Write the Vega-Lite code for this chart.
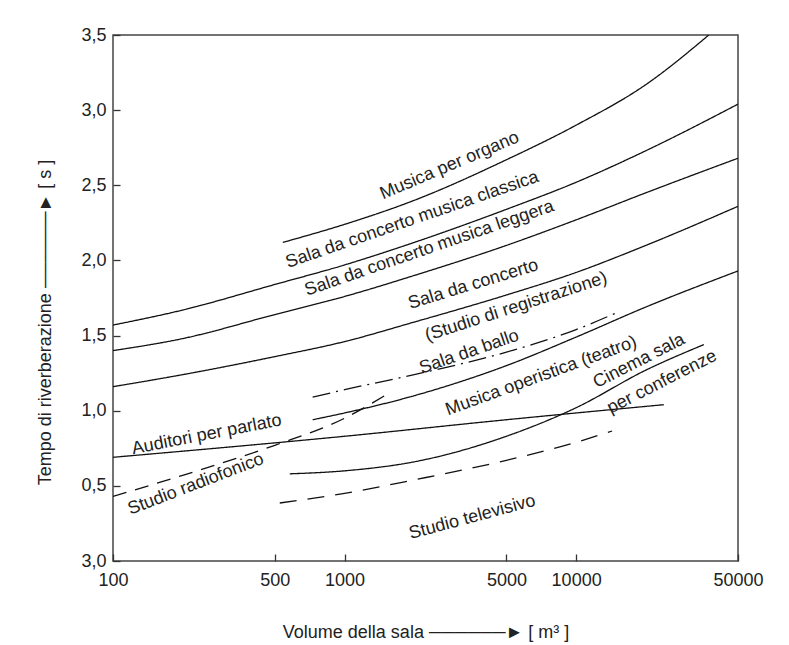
{
  "$schema": "https://vega.github.io/schema/vega-lite/v6.json",
  "width": 625,
  "height": 526,
  "autosize": {"type": "none"},
  "padding": {"left": 113, "top": 35, "right": 51, "bottom": 84},
  "background": "white",
  "config": {
    "font": "Liberation Sans",
    "view": {"stroke": "#444", "strokeWidth": 1.5},
    "axis": {"labelFont": "Liberation Sans", "titleFont": "Liberation Sans", "labelFontSize": 18, "titleFontSize": 18, "labelColor": "#222", "titleColor": "#222", "titleFontWeight": "normal", "grid": false, "domain": false, "tickColor": "#333", "tickWidth": 1.3}
  },
  "datasets": {
    "curves": [
      {"s": "classica", "V": 100, "T": 1.57}, {"s": "classica", "V": 200, "T": 1.67}, {"s": "classica", "V": 500, "T": 1.84}, {"s": "classica", "V": 1000, "T": 1.97}, {"s": "classica", "V": 2000, "T": 2.12}, {"s": "classica", "V": 5000, "T": 2.34}, {"s": "classica", "V": 10000, "T": 2.52}, {"s": "classica", "V": 20000, "T": 2.73}, {"s": "classica", "V": 50000, "T": 3.04},
      {"s": "leggera", "V": 100, "T": 1.40}, {"s": "leggera", "V": 200, "T": 1.48}, {"s": "leggera", "V": 500, "T": 1.64}, {"s": "leggera", "V": 1000, "T": 1.76}, {"s": "leggera", "V": 2000, "T": 1.90}, {"s": "leggera", "V": 5000, "T": 2.10}, {"s": "leggera", "V": 10000, "T": 2.27}, {"s": "leggera", "V": 20000, "T": 2.45}, {"s": "leggera", "V": 50000, "T": 2.68},
      {"s": "concerto", "V": 100, "T": 1.16}, {"s": "concerto", "V": 200, "T": 1.24}, {"s": "concerto", "V": 500, "T": 1.36}, {"s": "concerto", "V": 1000, "T": 1.46}, {"s": "concerto", "V": 2000, "T": 1.59}, {"s": "concerto", "V": 5000, "T": 1.77}, {"s": "concerto", "V": 10000, "T": 1.92}, {"s": "concerto", "V": 20000, "T": 2.10}, {"s": "concerto", "V": 50000, "T": 2.36},
      {"s": "organo", "V": 541, "T": 2.12}, {"s": "organo", "V": 1000, "T": 2.24}, {"s": "organo", "V": 2000, "T": 2.40}, {"s": "organo", "V": 5000, "T": 2.67}, {"s": "organo", "V": 10000, "T": 2.90}, {"s": "organo", "V": 20000, "T": 3.17}, {"s": "organo", "V": 37400, "T": 3.5},
      {"s": "operistica", "V": 728, "T": 0.94}, {"s": "operistica", "V": 1000, "T": 0.985}, {"s": "operistica", "V": 2000, "T": 1.10}, {"s": "operistica", "V": 5000, "T": 1.30}, {"s": "operistica", "V": 10000, "T": 1.49}, {"s": "operistica", "V": 20000, "T": 1.69}, {"s": "operistica", "V": 50000, "T": 1.93},
      {"s": "ballo", "V": 728, "T": 1.09}, {"s": "ballo", "V": 1000, "T": 1.14}, {"s": "ballo", "V": 2000, "T": 1.24}, {"s": "ballo", "V": 5000, "T": 1.39}, {"s": "ballo", "V": 10000, "T": 1.54}, {"s": "ballo", "V": 14860, "T": 1.65},
      {"s": "parlato", "V": 100, "T": 0.69}, {"s": "parlato", "V": 1000, "T": 0.83}, {"s": "parlato", "V": 5000, "T": 0.94}, {"s": "parlato", "V": 10000, "T": 0.985}, {"s": "parlato", "V": 23900, "T": 1.04},
      {"s": "radio", "V": 100, "T": 0.43}, {"s": "radio", "V": 200, "T": 0.57}, {"s": "radio", "V": 500, "T": 0.77}, {"s": "radio", "V": 1000, "T": 0.95}, {"s": "radio", "V": 1490, "T": 1.10},
      {"s": "cinema", "V": 580, "T": 0.58}, {"s": "cinema", "V": 1000, "T": 0.60}, {"s": "cinema", "V": 2000, "T": 0.66}, {"s": "cinema", "V": 5000, "T": 0.83}, {"s": "cinema", "V": 10000, "T": 1.02}, {"s": "cinema", "V": 20000, "T": 1.27}, {"s": "cinema", "V": 35600, "T": 1.44},
      {"s": "tv", "V": 525, "T": 0.386}, {"s": "tv", "V": 1000, "T": 0.45}, {"s": "tv", "V": 2000, "T": 0.54}, {"s": "tv", "V": 5000, "T": 0.67}, {"s": "tv", "V": 10000, "T": 0.79}, {"s": "tv", "V": 14300, "T": 0.865}
    ]
  },
  "encoding": {
    "x": {"field": "V", "type": "quantitative", "scale": {"type": "log", "domain": [100, 50000], "nice": false},
      "axis": {"values": [100, 500, 1000, 5000, 10000, 50000], "format": "d", "tickSize": -7, "labelPadding": 17, "labelFlush": false, "labelOverlap": false, "title": "Volume della sala  ──────►  [ m³ ]", "titlePadding": 34}},
    "y": {"field": "T", "type": "quantitative", "scale": {"domain": [0, 3.5], "nice": false, "zero": false},
      "axis": {"values": [0, 0.5, 1, 1.5, 2, 2.5, 3, 3.5], "labelExpr": "datum.value == 0 ? '3,0' : replace(format(datum.value, '.1f'), '.', ',')", "tickSize": -7, "labelPadding": 14, "labelFlush": false, "labelOverlap": false, "title": "Tempo di riverberazione  ──────►  [ s ]", "titlePadding": 26, "titleY": 287}}
  },
  "layer": [
    {
      "data": {"name": "curves"},
      "mark": {"type": "line", "interpolate": "monotone", "color": "#111", "strokeWidth": 1.3, "clip": true},
      "encoding": {
        "detail": {"field": "s"},
        "strokeDash": {"field": "s", "type": "nominal", "legend": null,
          "scale": {"domain": ["classica", "leggera", "concerto", "organo", "operistica", "ballo", "parlato", "radio", "cinema", "tv"],
            "range": [[1, 0], [1, 0], [1, 0], [1, 0], [1, 0], [18, 6, 2, 6], [1, 0], [14, 9], [1, 0], [17, 11]]}}
      }
    },
    {"data": {"values": [{"V": 2840, "T": 2.63, "t": "Musica per organo"}]}, "mark": {"type": "text", "angle": -23, "fontSize": 18, "color": "#222"}, "encoding": {"text": {"field": "t"}}},
    {"data": {"values": [{"V": 1960, "T": 2.27, "t": "Sala da concerto musica classica"}]}, "mark": {"type": "text", "angle": -19, "fontSize": 18, "color": "#222"}, "encoding": {"text": {"field": "t"}}},
    {"data": {"values": [{"V": 2325, "T": 2.08, "t": "Sala da concerto musica leggera"}]}, "mark": {"type": "text", "angle": -19, "fontSize": 18, "color": "#222"}, "encoding": {"text": {"field": "t"}}},
    {"data": {"values": [{"V": 3600, "T": 1.84, "t": "Sala da concerto"}]}, "mark": {"type": "text", "angle": -17, "fontSize": 18, "color": "#222"}, "encoding": {"text": {"field": "t"}}},
    {"data": {"values": [{"V": 5510, "T": 1.69, "t": "(Studio di registrazione)"}]}, "mark": {"type": "text", "angle": -18, "fontSize": 18, "color": "#222"}, "encoding": {"text": {"field": "t"}}},
    {"data": {"values": [{"V": 3455, "T": 1.39, "t": "Sala da ballo"}]}, "mark": {"type": "text", "angle": -19, "fontSize": 18, "color": "#222"}, "encoding": {"text": {"field": "t"}}},
    {"data": {"values": [{"V": 7070, "T": 1.23, "t": "Musica operistica (teatro)"}]}, "mark": {"type": "text", "angle": -20, "fontSize": 18, "color": "#222"}, "encoding": {"text": {"field": "t"}}},
    {"data": {"values": [{"V": 18700, "T": 1.33, "t": "Cinema sala"}, {"V": 23500, "T": 1.19, "t": "per conferenze"}]}, "mark": {"type": "text", "angle": -27, "fontSize": 18, "color": "#222"}, "encoding": {"text": {"field": "t"}}},
    {"data": {"values": [{"V": 254, "T": 0.84, "t": "Auditori per parlato"}]}, "mark": {"type": "text", "angle": -11, "fontSize": 18, "color": "#222"}, "encoding": {"text": {"field": "t"}}},
    {"data": {"values": [{"V": 228, "T": 0.51, "t": "Studio radiofonico"}]}, "mark": {"type": "text", "angle": -21, "fontSize": 18, "color": "#222"}, "encoding": {"text": {"field": "t"}}},
    {"data": {"values": [{"V": 3560, "T": 0.29, "t": "Studio televisivo"}]}, "mark": {"type": "text", "angle": -15, "fontSize": 18, "color": "#222"}, "encoding": {"text": {"field": "t"}}}
  ]
}
